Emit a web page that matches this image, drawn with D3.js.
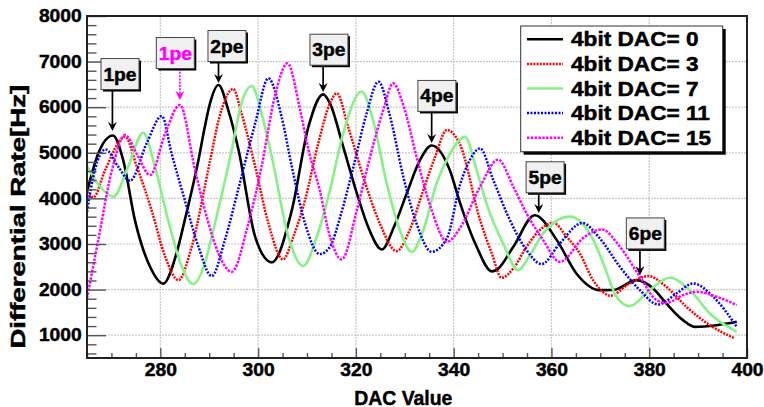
<!DOCTYPE html>
<html><head><meta charset="utf-8">
<script src="https://cdn.jsdelivr.net/npm/d3@7"></script>
<style>
html,body{margin:0;padding:0;background:#fff;}
svg{display:block;font-family:"Liberation Sans",Arial,Helvetica,sans-serif;font-weight:bold;}
</style></head><body>
<svg id="chart" width="764" height="407"></svg>
<script>
// ---------- data ----------
const legendLabels = ["4bit DAC= 0","4bit DAC= 3","4bit DAC= 7","4bit DAC= 11","4bit DAC= 15"];

const dac0 = [265,267.3,270.3,272.4,274.8,277.9,280.6,283.3,285,287.8,289.1,290.2,291.9,293.9,296,299.4,302.8,306.9,310.3,313.3,314.7,317.4,320.2,322.5,325.3,327.8,330.4,333.1,335.5,339.2,341.3,344.7,347.8,349,352.2,356.6,361.1,365.1,369.9,372.6,377.4,380.8,383.5,386.9,389.3,393.8,397.9];
const rate0 = [4145,4987,5380,4840,3524,2500,2130,2793,3524,4840,5572,6100,6486,5938,5060,3158,2597,3744,5572,6282,6085,5133,4110,3377,2880,3377,4110,4840,5160,4621,3900,2939,2400,2450,2939,3630,3085,2354,1988,1990,2207,2025,1696,1330,1183,1220,1293];

const dac3 = [265,266.3,268.7,272.8,275.2,278.2,281,283.7,286.4,290.2,292,294.9,296.6,299.4,302.1,305.1,307.2,309.6,312.3,314.7,316.1,318.4,321.5,324.9,328.3,331,333.8,336.2,338.6,341.3,345.4,347.8,349.8,352.2,354.9,357.6,360.4,363.1,365.8,368.5,370.6,372,376,379.8,383.5,387.6,392.4,397.5];
const rate3 = [4145,4022,4621,5350,4694,3744,2719,2208,2939,4840,5750,6400,5865,4694,3450,2662,3158,3963,5207,6085,6304,5572,4474,3450,2844,3305,4183,4913,5499,5180,3524,2793,2259,2464,2939,3305,3465,3158,2793,2208,1940,1864,2135,2296,2062,1623,1220,930];

const dac7 = [265,267.7,270.4,273.4,276.5,278.9,281.6,284.4,286.7,289.1,290.5,294.6,296.6,298.7,300.7,302.8,306.2,309.2,312,314.7,317.4,321.2,323.5,326.3,329,331.4,333.8,336.5,338.9,342.3,344.7,346.7,350.1,353.2,355.6,358.3,363.8,368.5,370.7,373.3,376,380.1,384.2,388.3,392.4,397.9];
const rate7 = [4709,4256,4036,4694,5440,4694,3524,2500,2120,2580,3158,5060,6085,6464,5865,4913,3158,2515,3158,4183,5426,6345,5718,4329,3305,2829,3305,4329,4913,5350,4621,3890,3012,2427,2756,3232,3600,3100,2550,1842,1638,1988,2259,1988,1477,1073];

const dac11 = [265,266.6,268.8,271.4,273.8,277.2,280.3,282.3,285,287.8,290.5,293.2,295.9,299.4,302.1,304.8,306.9,309.6,312.6,314.7,316.8,319.5,322.2,324.6,327,329.7,332.4,335.5,338.6,341.3,343.3,345.4,348.1,351.5,354.9,358,361.7,366.3,369.9,374,378.1,381.8,385.6,389,393.1,397.9];
const rate11 = [3707,4621,5075,4694,4387,5207,5806,4987,3963,2939,2296,3085,4183,5645,6633,5792,4694,3450,2778,2939,3600,4694,5865,6560,5792,4474,3450,2829,3122,4300,4840,5097,4402,3524,2866,2559,3012,3460,3122,2500,1988,1674,1916,2135,1842,1183];

const dac15 = [265,267.3,270.1,272.8,275.3,277.9,281,284,287.1,289.6,291.9,294.6,298,300.7,303.4,306,308.6,310.3,312.6,314.7,317.1,320.2,322.9,325.6,327.6,330,332.4,335.5,338.6,341.3,345.4,349.1,352.2,354.9,358.3,361.7,366.8,370.3,374,378.1,381.5,383.5,386.9,389.7,393.8,397.9];
const rate15 = [1806,3085,4621,5389,4950,4511,5426,6047,4621,3550,2793,2390,3450,4694,6231,6962,5938,5060,4183,3158,2662,3744,4913,5938,6523,5938,4913,3744,3048,3350,4256,4850,4256,3671,3085,2610,3158,3320,2939,2281,1769,1710,1879,1952,1842,1660];

const xMajorTicks = [280,300,320,340,360,380,400];
const yMajorTicks = [1000,2000,3000,4000,5000,6000,7000,8000];

// annotations (label, arrow x in DAC, arrow tip rate, label-box centre in DAC / rate, series index)
const annLabels  = ["1pe","1pe","2pe","3pe","4pe","5pe","6pe"];
const annDac     = [270.2,284.0,291.9,313.3,335.5,357.4,378.1];
const annTip     = [5477,6157,6530,6333,5214,3678,2317];
const annBoxDac  = [271.75,283.06,293.63,314.49,336.57,358.7,379.2];
const annBoxRate = [6727,7188,7342,7261,6247,4463,3232];
const annSeries  = [0,4,0,0,0,0,0];

// ---------- build ----------
const seriesX = [dac0,dac3,dac7,dac11,dac15];
const seriesY = [rate0,rate3,rate7,rate11,rate15];
const styles = [
  {color:"#000000", width:2.6, dash:null},
  {color:"#ff0000", width:2.5, dash:"2,1.2"},
  {color:"#88f088", width:2.6, dash:null},
  {color:"#0000ff", width:2.5, dash:"2,1.5"},
  {color:"#ff00ff", width:2.5, dash:"2.5,1.3"}
];

const svg = d3.select("#chart");
const L = 87, R = 747, T = 16, B = 358;
const x = d3.scaleLinear().domain([265,400]).range([L,R]);
const y = d3.scaleLinear().domain([500,8000]).range([B,T]);

function fitText(sel, factor){
  sel.each(function(){
    const w = this.getComputedTextLength();
    d3.select(this).attr("textLength", w*factor).attr("lengthAdjust","spacingAndGlyphs");
  });
}

svg.append("rect").attr("width",764).attr("height",407).attr("fill","#fff");

// grid
const grid = svg.append("g").attr("stroke","#c8c8c8").attr("stroke-width",1.2).attr("stroke-dasharray","2,1");
grid.selectAll("line.v").data(xMajorTicks.filter(d=>d<400)).join("line")
  .attr("x1",d=>x(d)).attr("x2",d=>x(d)).attr("y1",T).attr("y2",B);
grid.selectAll("line.h").data(yMajorTicks.filter(d=>d<8000)).join("line")
  .attr("y1",d=>y(d)).attr("y2",d=>y(d)).attr("x1",L).attr("x2",R);

// curves
svg.append("clipPath").attr("id","clip").append("rect").attr("x",L).attr("y",T).attr("width",R-L).attr("height",B-T);
const line = d3.line().x(d=>x(d[0])).y(d=>y(d[1])).curve(d3.curveMonotoneX);
const curves = svg.append("g").attr("clip-path","url(#clip)");
seriesX.forEach((xs,i)=>{
  const pts = xs.map((v,j)=>[v, seriesY[i][j]]);
  const st = styles[i];
  curves.append("path").datum(pts).attr("d",line).attr("fill","none")
    .attr("stroke",st.color).attr("stroke-width",st.width)
    .attr("stroke-dasharray",st.dash).attr("stroke-linejoin","round");
});

// axes
const xMinor = d3.range(265,401,5).filter(d=>!xMajorTicks.includes(d));
const yMinor = d3.range(600,8001,200).filter(d=>!yMajorTicks.includes(d));
svg.append("g").attr("transform",`translate(0,${B})`)
  .call(d3.axisBottom(x).tickValues(xMinor).tickSize(-5).tickFormat(""))
  .call(g=>g.select(".domain").remove())
  .selectAll("line").attr("stroke","#555").attr("stroke-width",1.4);
const xAx = svg.append("g").attr("transform",`translate(0,${B})`)
  .call(d3.axisBottom(x).tickValues(xMajorTicks).tickSize(-10).tickPadding(6).tickFormat(d3.format("d")));
xAx.select(".domain").remove();
xAx.selectAll("line").attr("stroke","#555").attr("stroke-width",1.4);
xAx.selectAll("text").attr("font-size",17.5).attr("font-weight","bold").attr("fill","#000")
  .attr("font-family","Liberation Sans, Arial, sans-serif").call(fitText,1.1);

svg.append("g").attr("transform",`translate(${L},0)`)
  .call(d3.axisLeft(y).tickValues(yMinor).tickSize(-9.5).tickFormat(""))
  .call(g=>g.select(".domain").remove())
  .selectAll("line").attr("stroke","#555").attr("stroke-width",1.4);
const yAx = svg.append("g").attr("transform",`translate(${L},0)`)
  .call(d3.axisLeft(y).tickValues(yMajorTicks).tickSize(-19).tickPadding(5.3).tickFormat(d3.format("d")));
yAx.select(".domain").remove();
yAx.selectAll("line").attr("stroke","#555").attr("stroke-width",1.4);
yAx.selectAll("text").attr("font-size",17.5).attr("font-weight","bold").attr("fill","#000")
  .attr("font-family","Liberation Sans, Arial, sans-serif").call(fitText,1.1);

// frame
svg.append("rect").attr("x",L).attr("y",T).attr("width",R-L).attr("height",B-T)
  .attr("fill","none").attr("stroke","#222").attr("stroke-width",2);

// axis titles
svg.append("text").attr("x",403.3).attr("y",404.5).attr("text-anchor","middle").attr("fill","#000")
  .attr("font-size",20).text("DAC Value").call(fitText,0.97);
svg.append("text").attr("transform","translate(24.5,216.7) rotate(-90)").attr("text-anchor","middle").attr("fill","#000")
  .attr("font-size",20).text("Differential Rate[Hz]").call(fitText,1.38);

// annotations
const ann = svg.append("g");
annLabels.forEach((lab,i)=>{
  const col = styles[annSeries[i]].color;
  const cx = x(annBoxDac[i]), cy = y(annBoxRate[i]);
  const bw = 38, bh = 31;
  const ax = x(annDac[i]), tip = y(annTip[i]);
  ann.append("line").attr("x1",ax).attr("x2",ax).attr("y1",cy+bh/2).attr("y2",tip-6)
    .attr("stroke",col).attr("stroke-width",1.7).attr("stroke-dasharray", annSeries[i]===4 ? "2,1.3" : null);
  ann.append("path").attr("d",`M${ax-4.5},${tip-9}L${ax},${tip}L${ax+4.5},${tip-9}L${ax},${tip-6}Z`).attr("fill",col);
  ann.append("rect").attr("x",cx-bw/2+2).attr("y",cy-bh/2+2).attr("width",bw).attr("height",bh).attr("fill","#000");
  ann.append("rect").attr("x",cx-bw/2).attr("y",cy-bh/2).attr("width",bw).attr("height",bh)
    .attr("fill","#f0f0f0").attr("stroke","#444").attr("stroke-width",1);
  ann.append("text").attr("x",cx).attr("y",cy+6.5).attr("text-anchor","middle")
    .attr("font-size",18.5).attr("fill",col).text(lab).call(fitText,1.04);
});

// legend
const lg = svg.append("g");
lg.append("rect").attr("x",523.7).attr("y",29).attr("width",202).attr("height",125.7).attr("fill","#000");
lg.append("rect").attr("x",520.7).attr("y",26).attr("width",202).attr("height",125.7)
  .attr("fill","#fff").attr("stroke","#333").attr("stroke-width",1);
legendLabels.forEach((lab,i)=>{
  const yy = 39.3 + i*24.6;
  const st = styles[i];
  lg.append("line").attr("x1",527).attr("x2",563).attr("y1",yy).attr("y2",yy)
    .attr("stroke",st.color).attr("stroke-width",st.width).attr("stroke-dasharray",st.dash);
  lg.append("text").attr("x",571).attr("y",yy+7).attr("font-size",19.5).attr("fill","#000")
    .text(lab).call(fitText,1.16);
});

// heavier glyphs, like the original bitmap rendering
svg.selectAll("text").each(function(){
  const t = d3.select(this);
  t.attr("stroke", t.attr("fill") || "#000").attr("stroke-width",0.45).attr("paint-order","stroke");
});
</script>
</body></html>
